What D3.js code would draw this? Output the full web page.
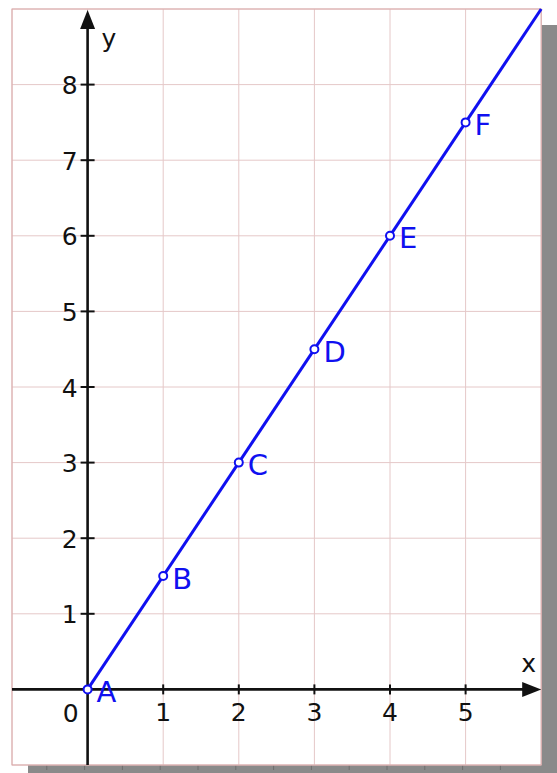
<!DOCTYPE html>
<html>
<head>
<meta charset="utf-8">
<script src="https://cdn.jsdelivr.net/npm/d3@7"></script>
<style>
  html, body { margin: 0; padding: 0; background: #fff; }
  svg { display: block; }
  text { font-family: "DejaVu Sans", Verdana, sans-serif; }
</style>
</head>
<body>
<svg id="chart" width="557" height="773"></svg>
<script>
// Points on the line y = 1.5x
const pointNames = ["A", "B", "C", "D", "E", "F"];
const pointX = [0, 1, 2, 3, 4, 5];
const pointY = [0, 1.5, 3, 4.5, 6, 7.5];
// The drawn line runs from the origin to the top-right corner of the grid
const lineX = [0, 6];
const lineY = [0, 9];
const xTickValues = [1, 2, 3, 4, 5];
const yTickValues = [1, 2, 3, 4, 5, 6, 7, 8];
const xDomain = [-1, 6];
const yDomain = [-1, 9];

const svg = d3.select("#chart");
const sheetLeft = 12, sheetTop = 9, unit = 75.6;
const x = d3.scaleLinear().domain(xDomain).range([sheetLeft, sheetLeft + unit * (xDomain[1] - xDomain[0])]);
const y = d3.scaleLinear().domain(yDomain).range([sheetTop + unit * (yDomain[1] - yDomain[0]), sheetTop]);

const x0 = x.range()[0], x1 = x.range()[1];
const yTop = y.range()[1], yBot = y.range()[0];

// drop shadow behind the sheet
const shadow = 16;
svg.append("rect").attr("x", x0 + shadow).attr("y", yTop + shadow)
  .attr("width", x1 - x0).attr("height", yBot - yTop).attr("fill", "#8a8a8a");
// faint marks along the bottom of the shadow
svg.append("g").selectAll("line").data(d3.range(-0.5, 6, 0.5)).join("line")
  .attr("x1", d => x(d) - 3).attr("x2", d => x(d) - 3)
  .attr("y1", yBot).attr("y2", yBot + 5)
  .attr("stroke", "#6e6e6e").attr("stroke-width", 1);

// sheet
svg.append("rect").attr("x", x0).attr("y", yTop)
  .attr("width", x1 - x0).attr("height", yBot - yTop).attr("fill", "#fff");

// grid
const grid = svg.append("g").attr("stroke", "#e5c8c8").attr("stroke-width", 1);
grid.selectAll("line.v").data(d3.range(xDomain[0], xDomain[1] + 1)).join("line")
  .attr("class", "v")
  .attr("x1", d => x(d)).attr("x2", d => x(d)).attr("y1", yTop).attr("y2", yBot);
grid.selectAll("line.h").data(d3.range(yDomain[0], yDomain[1] + 1)).join("line")
  .attr("class", "h")
  .attr("x1", x0).attr("x2", x1).attr("y1", d => y(d)).attr("y2", d => y(d));
svg.append("rect").attr("x", x0).attr("y", yTop)
  .attr("width", x1 - x0).attr("height", yBot - yTop)
  .attr("fill", "none").attr("stroke", "#d9a9a9").attr("stroke-width", 1);

// axes
const axisColor = "#111";
svg.append("line").attr("x1", x0).attr("x2", x1 - 16).attr("y1", y(0)).attr("y2", y(0))
  .attr("stroke", axisColor).attr("stroke-width", 2.6);
svg.append("line").attr("x1", x(0)).attr("x2", x(0)).attr("y1", yBot).attr("y2", yTop + 16)
  .attr("stroke", axisColor).attr("stroke-width", 2.6);
// arrow heads
svg.append("path")
  .attr("d", `M${x1},${y(0)} L${x1 - 19},${y(0) - 7.5} L${x1 - 19},${y(0) + 7.5} Z`)
  .attr("fill", axisColor);
svg.append("path")
  .attr("d", `M${x(0)},${yTop + 1} L${x(0) - 7.5},${yTop + 20} L${x(0) + 7.5},${yTop + 20} Z`)
  .attr("fill", axisColor);

// tick marks
svg.append("g").selectAll("line").data(xTickValues).join("line")
  .attr("x1", d => x(d)).attr("x2", d => x(d))
  .attr("y1", y(0) - 5).attr("y2", y(0) + 5)
  .attr("stroke", axisColor).attr("stroke-width", 2);
svg.append("g").selectAll("line").data(yTickValues).join("line")
  .attr("x1", x(0) - 7).attr("x2", x(0) + 7)
  .attr("y1", d => y(d)).attr("y2", d => y(d))
  .attr("stroke", axisColor).attr("stroke-width", 2);

// tick labels
const tickFont = 25;
svg.append("g").selectAll("text").data(xTickValues).join("text")
  .attr("x", d => x(d)).attr("y", y(0) + 32)
  .attr("text-anchor", "middle").attr("font-size", tickFont).attr("fill", "#111")
  .text(d => d);
svg.append("g").selectAll("text").data(yTickValues).join("text")
  .attr("x", x(0) - 10).attr("y", d => y(d) + 9.5)
  .attr("text-anchor", "end").attr("font-size", tickFont).attr("fill", "#111")
  .text(d => d);
svg.append("text").attr("x", x(0) - 9).attr("y", y(0) + 33)
  .attr("text-anchor", "end").attr("font-size", tickFont).attr("fill", "#111").text("0");

// axis names
svg.append("text").attr("x", x1 - 20).attr("y", y(0) - 17)
  .attr("font-size", 25).attr("fill", "#111").text("x");
svg.append("text").attr("x", x(0) + 14).attr("y", yTop + 38)
  .attr("font-size", 25).attr("fill", "#111").text("y");

// the line
const blue = "#1010f0";
svg.append("path")
  .datum(lineX.map((v, i) => [v, lineY[i]]))
  .attr("d", d3.line().x(d => x(d[0])).y(d => y(d[1])))
  .attr("fill", "none").attr("stroke", blue).attr("stroke-width", 3);

// points and their names
const pts = pointX.map((v, i) => ({ x: v, y: pointY[i], name: pointNames[i] }));
svg.append("g").selectAll("circle").data(pts).join("circle")
  .attr("cx", d => x(d.x)).attr("cy", d => y(d.y)).attr("r", 4)
  .attr("fill", "#fff").attr("stroke", blue).attr("stroke-width", 2);
svg.append("g").selectAll("text").data(pts).join("text")
  .attr("x", d => x(d.x) + 9).attr("y", d => y(d.y) + 12.5)
  .attr("font-size", 29).attr("fill", blue)
  .text(d => d.name);
</script>
</body>
</html>
